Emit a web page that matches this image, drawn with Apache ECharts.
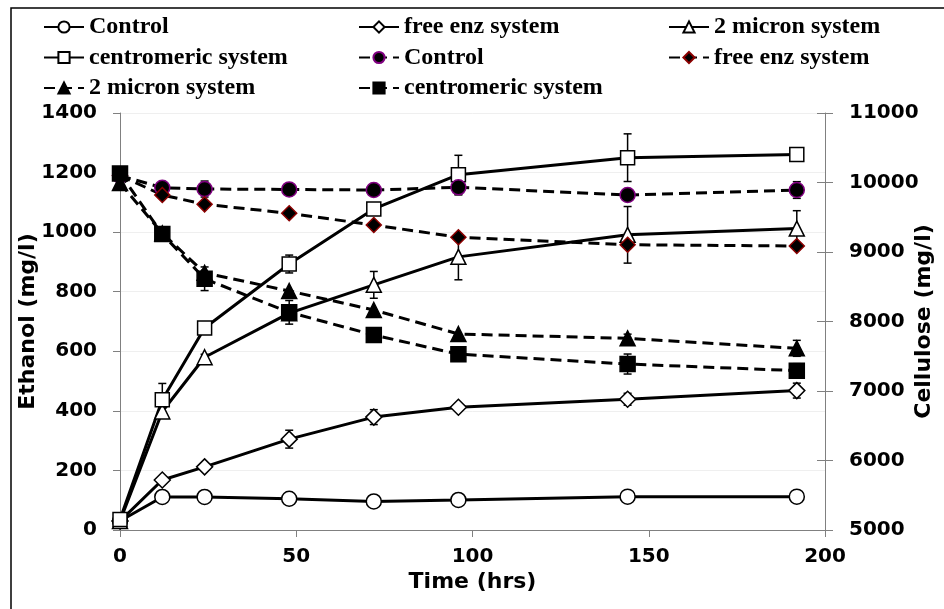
<!DOCTYPE html>
<html>
<head>
    <meta charset="utf-8">
    <title>Ethanol / Cellulose</title>
    <style type="text/css">
        body{ margin:0; background:#fff; }
        #main{ width:944px; height:609px; }
    </style>
    <script src="https://cdn.jsdelivr.net/npm/echarts@6/dist/echarts.min.js"></script>
</head>
<body>
    <div id="main"></div>
    <script type="text/javascript">
// time points (hrs)
var hours = [0, 12, 24, 48, 72, 96, 144, 192];

// ethanol (mg/l), left axis
var ethControl = [30, 111, 111, 105, 96, 101, 112, 112];
var ethFree    = [30, 168, 212, 305, 379, 412, 439, 468];
var eth2mic    = [30, 398, 580, 728, 823, 917, 991, 1012];
var ethCen     = [35, 437, 678, 893, 1078, 1193, 1250, 1261];

// cellulose (mg/l), right axis
var celControl = [10100, 9925, 9906, 9900, 9892, 9931, 9820, 9892];
var celFree    = [10100, 9820, 9686, 9557, 9388, 9212, 9105, 9086];
var cel2mic    = [9993, 9269, 8700, 8439, 8165, 7820, 7758, 7614];
var celCen     = [10130, 9259, 8615, 8132, 7806, 7530, 7388, 7293];

// error bars (+/-)
var errEthFree = [0, 8, 8, 30, 25, 10, 20, 25];
var errEth2mic = [0, 20, 10, 0, 45, 77, 95, 60];
var errEthCen  = [0, 55, 20, 30, 0, 65, 80, 0];
var errCelControl = [0, 0, 115, 0, 0, 110, 0, 120];
var errCel2mic = [0, 0, 0, 0, 0, 0, 60, 115];
var errCelCen  = [0, 0, 170, 170, 0, 0, 144, 100];

// legend columns (trailing space = cellulose series)
var legendCol1 = ['Control', 'centromeric system', '2 micron system '];
var legendCol2 = ['free enz system', 'Control ', 'centromeric system '];
var legendCol3 = ['2 micron system', 'free enz system '];

var myChart = echarts.init(document.getElementById('main'));

function pairs(vals) {
    return hours.map(function (h, i) { return [h, vals[i]]; });
}
function errData(vals, errs) {
    return hours.map(function (h, i) { return [h, vals[i], errs[i]]; });
}

// draws vertical error bar with caps
function renderErr(params, api) {
    var x = api.value(0), y = api.value(1), e = api.value(2);
    if (!e) return;
    var top = api.coord([x, y + e]);
    var bot = api.coord([x, y - e]);
    var w = 4;
    var st = { stroke: '#000', lineWidth: 1.5 };
    return {
        type: 'group',
        children: [
            { type: 'line', shape: { x1: top[0], y1: top[1], x2: bot[0], y2: bot[1] }, style: st },
            { type: 'line', shape: { x1: top[0] - w, y1: top[1], x2: top[0] + w, y2: top[1] }, style: st },
            { type: 'line', shape: { x1: bot[0] - w, y1: bot[1], x2: bot[0] + w, y2: bot[1] }, style: st }
        ]
    };
}

function errSeries(vals, errs, yIdx) {
    return {
        type: 'custom',
        yAxisIndex: yIdx,
        renderItem: renderErr,
        data: errData(vals, errs),
        z: 1,
        silent: true
    };
}

function solid(name, vals, symbol, size) {
    return {
        name: name,
        type: 'line',
        yAxisIndex: 0,
        data: pairs(vals),
        symbol: symbol,
        symbolSize: size,
        showAllSymbol: true,
        lineStyle: { color: '#000', width: 3 },
        itemStyle: { color: '#fff', borderColor: '#000', borderWidth: 1.5 },
        z: 3
    };
}

function dashed(name, vals, symbol, size, edge) {
    return {
        name: name,
        type: 'line',
        yAxisIndex: 1,
        data: pairs(vals),
        symbol: symbol,
        symbolSize: size,
        lineStyle: { color: '#000', width: 3, type: [11, 6] },
        itemStyle: { color: '#000', borderColor: edge, borderWidth: 1.5 },
        z: 3
    };
}

function plain(v) { return String(v); }

var labelFont = { color: '#000', fontFamily: 'DejaVu Sans', fontWeight: 'bold', fontSize: 20, formatter: plain };
var nameFont = { color: '#000', fontFamily: 'DejaVu Sans', fontWeight: 'bold', fontSize: 22 };
var legendText = { color: '#000', fontFamily: 'Liberation Serif', fontWeight: 'bold', fontSize: 24, lineHeight: 24 };

function legendCol(left, names) {
    return {
        orient: 'vertical',
        left: left,
        top: 15,
        itemWidth: 40,
        itemHeight: 14,
        itemGap: 6.5,
        padding: 0,
        textStyle: legendText,
        data: names,
        formatter: function (n) { return n.trim(); }
    };
}

var option = {
    animation: false,
    legend: [
        legendCol(43, legendCol1),
        legendCol(358, legendCol2),
        legendCol(668, legendCol3)
    ],
    grid: { left: 120, right: 119, top: 113, bottom: 79, outerBoundsMode: 'none', containLabel: false },
    graphic: [{
        type: 'rect',
        shape: { x: 11, y: 8, width: 1000, height: 700 },
        style: { fill: 'none', stroke: '#000', lineWidth: 1.5 },
        silent: true
    }],
    xAxis: {
        type: 'value',
        min: 0, max: 200, interval: 50,
        name: 'Time (hrs)',
        nameLocation: 'middle',
        nameGap: 41,
        nameMoveOverlap: false,
        nameTextStyle: nameFont,
        axisLine: { lineStyle: { color: '#808080', width: 1 } },
        axisTick: { length: 7, lineStyle: { color: '#808080' } },
        axisLabel: Object.assign({ margin: 17 }, labelFont),
        splitLine: { show: false }
    },
    yAxis: [{
        type: 'value',
        position: 'left',
        min: 0, max: 1400, interval: 200,
        name: 'Ethanol (mg/l)',
        nameLocation: 'middle',
        nameGap: 81,
        nameMoveOverlap: false,
        nameTextStyle: nameFont,
        axisLine: { show: true, lineStyle: { color: '#808080', width: 1 } },
        axisTick: { show: true, length: 7, lineStyle: { color: '#808080' } },
        axisLabel: Object.assign({ margin: 23 }, labelFont),
        splitLine: { show: true, lineStyle: { color: '#efefef', width: 1 } }
    }, {
        type: 'value',
        position: 'right',
        min: 5000, max: 11000, interval: 1000,
        name: 'Cellulose (mg/l)',
        nameLocation: 'middle',
        nameGap: 88,
        nameMoveOverlap: false,
        nameTextStyle: nameFont,
        axisLine: { show: true, lineStyle: { color: '#808080', width: 1 } },
        axisTick: { show: true, length: 8, lineStyle: { color: '#808080' } },
        axisLabel: Object.assign({ margin: 24 }, labelFont),
        splitLine: { show: false }
    }, {
        // inner half of the crossing ticks on the right axis
        type: 'value',
        position: 'right',
        min: 5000, max: 11000, interval: 1000,
        axisLine: { show: false },
        axisTick: { show: true, inside: true, length: 8, lineStyle: { color: '#808080' } },
        axisLabel: { show: false },
        splitLine: { show: false }
    }],
    series: [
        errSeries(ethFree, errEthFree, 0),
        errSeries(eth2mic, errEth2mic, 0),
        errSeries(ethCen, errEthCen, 0),
        errSeries(celControl, errCelControl, 1),
        errSeries(cel2mic, errCel2mic, 1),
        errSeries(celCen, errCelCen, 1),
        solid('Control', ethControl, 'circle', 15),
        solid('free enz system', ethFree, 'diamond', 16),
        solid('2 micron system', eth2mic, 'triangle', 15),
        solid('centromeric system', ethCen, 'rect', 14),
        dashed('Control ', celControl, 'circle', 15, '#800080'),
        dashed('free enz system ', celFree, 'diamond', 15, '#8b0000'),
        dashed('2 micron system ', cel2mic, 'triangle', 15, '#000'),
        dashed('centromeric system ', celCen, 'rect', 15, '#000')
    ]
};

myChart.setOption(option);
    </script>
</body>
</html>
